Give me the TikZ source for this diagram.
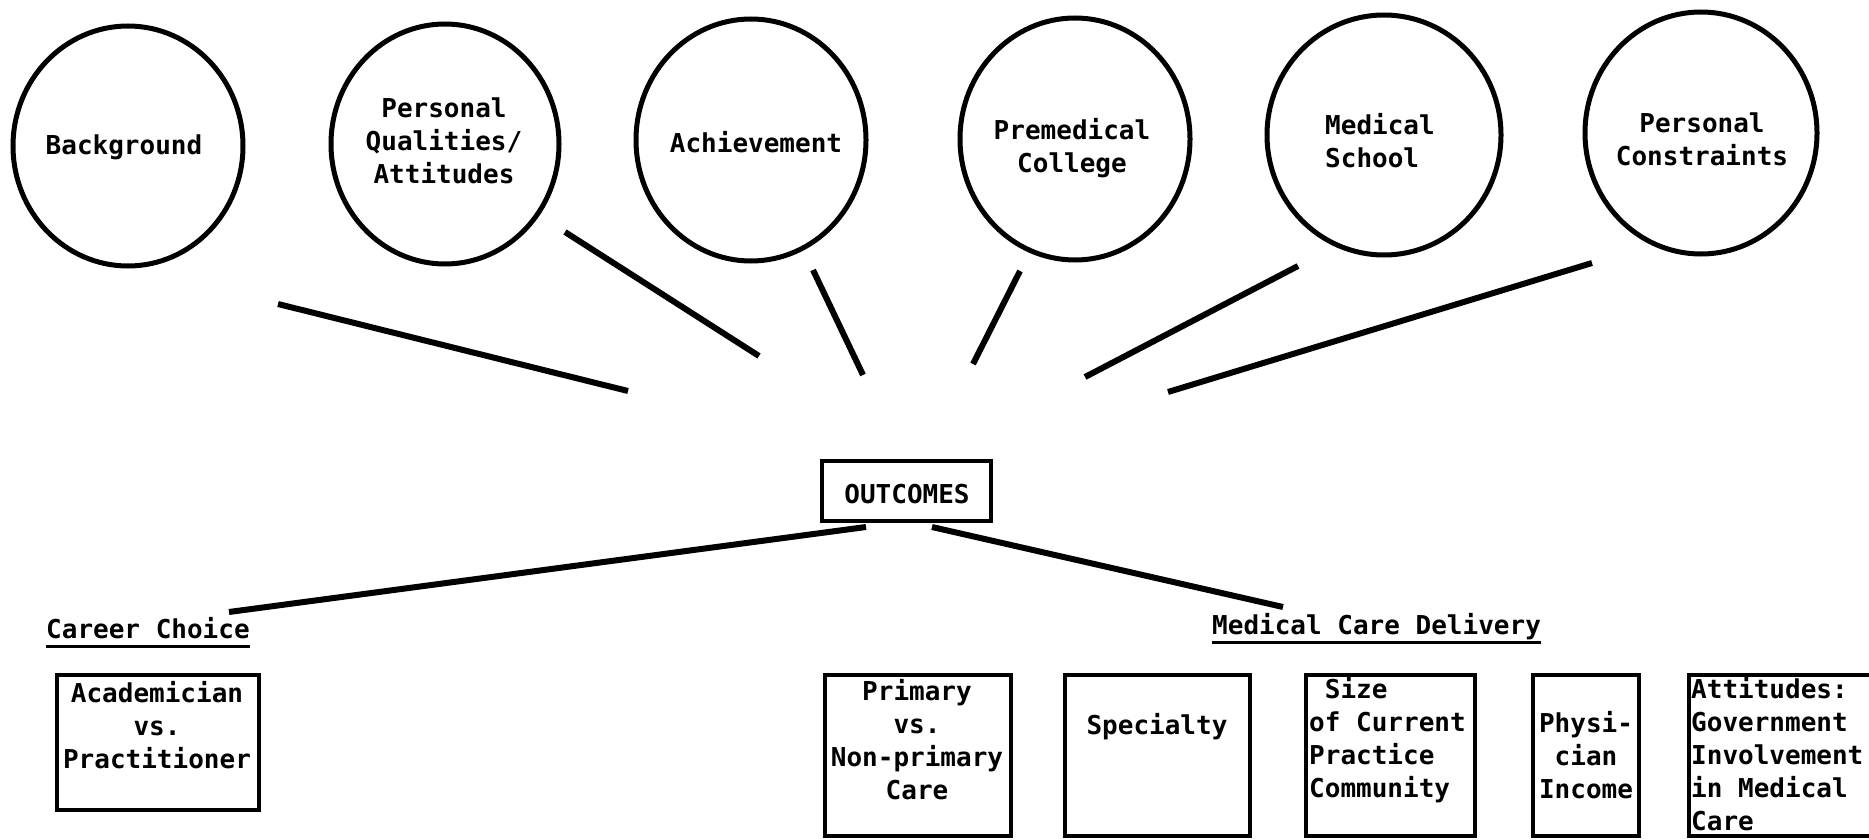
\documentclass[tikz,border=0pt]{standalone}
\usepackage{fontspec}
\newfontfamily\typew{DejaVu Sans Mono}
\usetikzlibrary{shapes.geometric}
\tikzset{
  circ/.style={draw, ellipse, line width=5, inner sep=0},
  txt/.style={font=\typew\bfseries\fontsize{26}{33}\selectfont, inner sep=0, align=center, anchor=north, execute at begin node=\strut},
  txtl/.style={txt, align=left, anchor=north west},
  hdr/.style={font=\typew\bfseries\fontsize{26}{33}\selectfont, inner sep=0, anchor=base west},
  conn/.style={line width=6},
  ul/.style={line width=3},
  box/.style={draw, rectangle, line width=4, inner sep=0}
}
\begin{document}
\begin{tikzpicture}[x=1pt,y=-1pt]
\fill[white] (0,0) rectangle (1869,840);
\useasboundingbox (0,0) rectangle (1869,840);
% circles
\node[circ, minimum width=230, minimum height=240] (c1) at (128,146) {};
\node[circ, minimum width=228, minimum height=240] (c2) at (445,144) {};
\node[circ, minimum width=230, minimum height=242] (c3) at (751,140) {};
\node[circ, minimum width=230, minimum height=242] (c4) at (1075,139) {};
\node[circ, minimum width=234, minimum height=240] (c5) at (1384,135) {};
\node[circ, minimum width=232, minimum height=242] (c6) at (1701,133) {};
\node[txt] (t1) at (124,131) {Background};
\node[txt] (t2) at (444,98) {Personal\\Qualities/\\Attitudes};
\node[txt] (t3) at (756,129) {Achievement};
\node[txt] (t4) at (1072,118) {Premedical\\College};
\node[txtl] (t5) at (1325,113) {Medical\\School};
\node[txt] (t6) at (1702,113) {Personal\\Constraints};
% free connectors from circles
\coordinate (a1) at (278,304); \coordinate (e1) at (628,391);
\coordinate (a2) at (565,232); \coordinate (e2) at (759,356);
\coordinate (a3) at (813,270); \coordinate (e3) at (863,375);
\coordinate (a4) at (1020,271); \coordinate (e4) at (973,364);
\coordinate (a5) at (1298,266); \coordinate (e5) at (1085,377);
\coordinate (a6) at (1592,263); \coordinate (e6) at (1168,392);
\draw[conn] (a1) -- (e1);
\draw[conn] (a2) -- (e2);
\draw[conn] (a3) -- (e3);
\draw[conn] (a4) -- (e4);
\draw[conn] (a5) -- (e5);
\draw[conn] (a6) -- (e6);
% outcomes
\node[box, minimum width=169, minimum height=60] (out) at (906,491) {};
\node[hdr, anchor=base] (outt) at (907,503) {OUTCOMES};
\coordinate (ccend) at (229,612);
\coordinate (mcend) at (1283,607);
\draw[conn] ([xshift=-40pt,yshift=-4pt]out.south) -- (ccend);
\draw[conn] ([xshift=26pt,yshift=-4pt]out.south) -- (mcend);
% headers
\node[hdr] (cc) at (46,638) {Career Choice};
\draw[ul] ([yshift=-8pt]cc.base west) -- ([yshift=-8pt]cc.base east);
\node[hdr] (mcd) at (1212,634) {Medical Care Delivery};
\draw[ul] ([yshift=-8pt]mcd.base west) -- ([yshift=-8pt]mcd.base east);
% boxes
\node[box, minimum width=202, minimum height=135] (b1) at (158,742.5) {};
\node[box, minimum width=186, minimum height=161] (b2) at (918,755.5) {};
\node[box, minimum width=185, minimum height=161] (b3) at (1157.5,755.5) {};
\node[box, minimum width=169, minimum height=161] (b4) at (1390.5,755.5) {};
\node[box, minimum width=106, minimum height=161] (b5) at (1586,755.5) {};
\node[box, minimum width=191, minimum height=161] (b6) at (1784.5,755.5) {};
\node[txt] (bt1) at (157,681) {Academician\\vs.\\Practitioner};
\node[txt] (bt2) at (917,679) {Primary\\vs.\\Non-primary\\Care};
\node[txt] (bt3) at (1157,711) {Specialty};
\node[txtl] (bt4) at (1309,677) {\hphantom{o}Size\\of Current\\Practice\\Community};
\node[txt] (bt5) at (1586,711) {Physi-\\cian\\Income};
\node[txtl] (bt6) at (1691,677) {Attitudes:\\Government\\Involvement\\in Medical\\Care};
\end{tikzpicture}
\end{document}
